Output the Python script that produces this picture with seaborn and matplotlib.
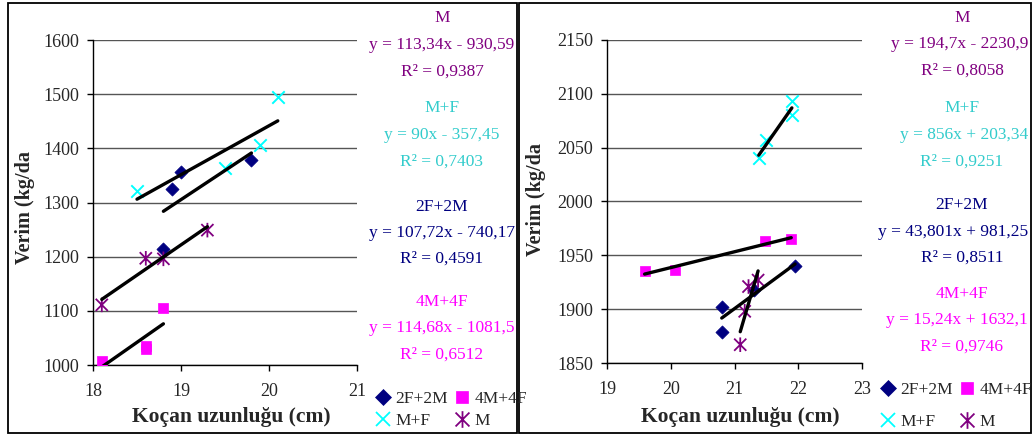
import numpy as np
import pandas as pd
import matplotlib.pyplot as plt
import seaborn as sns
from matplotlib.path import Path
from matplotlib.patches import Rectangle
from matplotlib.lines import Line2D


# --- data (x: Koçan uzunluğu, y: Verim) ---
GROUPS = ["2F+2M", "4M+4F", "M+F", "M"]

left_x = {
    "2F+2M": [19.0, 18.9, 19.8, 18.8],
    "4M+4F": [18.1, 18.6, 18.6, 18.8],
    "M+F": [18.5, 19.5, 19.9, 20.1],
    "M": [18.1, 18.6, 18.8, 19.3],
}
left_y = {
    "2F+2M": [1357, 1325, 1378, 1215],
    "4M+4F": [1008, 1030, 1036, 1105],
    "M+F": [1322, 1363, 1406, 1495],
    "M": [1111, 1197, 1196, 1249],
}
right_x = {
    "2F+2M": [20.8, 20.8, 21.3, 21.95],
    "4M+4F": [19.59, 20.07, 21.48, 21.89],
    "M+F": [21.38, 21.5, 21.9, 21.9],
    "M": [21.09, 21.16, 21.22, 21.37],
}
right_y = {
    "2F+2M": [1902, 1879, 1918, 1940],
    "4M+4F": [1935, 1936, 1963, 1965],
    "M+F": [2040, 2057, 2093, 2080],
    "M": [1867, 1898, 1921, 1927],
}

left_eq = {
    "M": ["y = 113,34x - 930,59", "R² = 0,9387"],
    "M+F": ["y = 90x - 357,45", "R² = 0,7403"],
    "2F+2M": ["y = 107,72x - 740,17", "R² = 0,4591"],
    "4M+4F": ["y = 114,68x - 1081,5", "R² = 0,6512"],
}
right_eq = {
    "M": ["y = 194,7x - 2230,9", "R² = 0,8058"],
    "M+F": ["y = 856x + 203,34", "R² = 0,9251"],
    "2F+2M": ["y = 43,801x + 981,25", "R² = 0,8511"],
    "4M+4F": ["y = 15,24x + 1632,1", "R² = 0,9746"],
}

left_xticks = [18, 19, 20, 21]
left_yticks = [1000, 1100, 1200, 1300, 1400, 1500, 1600]
right_xticks = [19, 20, 21, 22, 23]
right_yticks = [1850, 1900, 1950, 2000, 2050, 2100, 2150]

# --- styles ---
ASTERISK = Path(
    [(-1, -1), (1, 1), (-1, 1), (1, -1), (0, -1.2), (0, 1.2)],
    [Path.MOVETO, Path.LINETO, Path.MOVETO, Path.LINETO, Path.MOVETO, Path.LINETO],
)
MARKER_COLORS = {"2F+2M": "#000080", "4M+4F": "#FF00FF", "M+F": "#00FFFF", "M": "#800080"}
TEXT_COLORS = {"2F+2M": "#000080", "4M+4F": "#FF00FF", "M+F": "#33CCCC", "M": "#800080"}
MARKERS = {"2F+2M": "D", "4M+4F": "s", "M+F": "x", "M": ASTERISK}
SIZES = {"2F+2M": 45, "4M+4F": 55, "M+F": 80, "M": 110}

sns.set_theme(style="white")
plt.rcParams["font.family"] = ["Liberation Serif", "DejaVu Serif"]

W, H = 1034, 436
fig = plt.figure(figsize=(W / 100, H / 100), dpi=100)


def px_rect(x0, x1, ytop, ybot):
    return [x0 / W, (H - ybot) / H, (x1 - x0) / W, (ybot - ytop) / H]


def draw_panel(ax, xs, ys, xticks, yticks):
    for g in GROUPS:
        df = pd.DataFrame({"x": xs[g], "y": ys[g]})
        kw = dict(color=MARKER_COLORS[g], marker=MARKERS[g], s=SIZES[g], zorder=3)
        if g in ("2F+2M", "4M+4F"):
            kw.update(edgecolor=MARKER_COLORS[g], linewidth=0.5)
        elif g == "M":
            kw.update(edgecolor=MARKER_COLORS[g], facecolor="none", linewidth=1.3)
        else:
            kw.update(linewidth=1.4)
        sns.scatterplot(data=df, x="x", y="y", ax=ax, legend=False, **kw)
        sns.regplot(data=df, x="x", y="y", ax=ax, scatter=False, ci=None,
                    truncate=True, line_kws=dict(color="black", lw=2.4, zorder=4))
    ax.set_xlim(xticks[0], xticks[-1])
    ax.set_ylim(yticks[0], yticks[-1])
    ax.set_xticks(xticks)
    ax.set_yticks(yticks)
    ax.yaxis.grid(True, color="#555555", lw=1.0)
    ax.xaxis.grid(False)
    ax.set_axisbelow(True)
    for s in ("top", "right"):
        ax.spines[s].set_visible(False)
    for s in ("left", "bottom"):
        ax.spines[s].set_color("black")
        ax.spines[s].set_linewidth(1.0)
    ax.tick_params(axis="both", direction="out", length=4, width=1, color="black",
                   labelsize=13, pad=6, left=True, bottom=True)
    ax.tick_params(axis="x", pad=9)
    ax.set_xlabel("")
    ax.set_ylabel("")


axL = fig.add_axes(px_rect(93, 357, 40, 365))
draw_panel(axL, left_x, left_y, left_xticks, left_yticks)
axR = fig.add_axes(px_rect(607, 862, 40, 363))
draw_panel(axR, right_x, right_y, right_xticks, right_yticks)

# axis titles
for xc, yc in [(25, 207), (536, 199)]:
    fig.text(xc / W, 1 - yc / H, "Verim (kg/da", rotation=90, ha="center", va="center",
             fontsize=14.5, fontweight="bold")
for xc in (231, 740):
    fig.text(xc / W, 1 - 417 / H, "Koçan uzunluğu (cm)", ha="center", va="center",
             fontsize=15.5, fontweight="bold")

# equation blocks
order = ["M", "M+F", "2F+2M", "4M+4F"]
left_rows = [(18, 45, 72), (108, 135, 162), (207, 233, 259), (302, 328, 355)]
right_rows = [(18, 44, 71), (108, 135, 162), (205, 232, 258), (294, 320, 347)]
for g, ypos in zip(order, left_rows):
    for txt, yp in zip([g] + left_eq[g], ypos):
        fig.text(442 / W, 1 - yp / H, txt, ha="center", va="center",
                 fontsize=12.5, color=TEXT_COLORS[g])
for g, ypos in zip(order, right_rows):
    name, eq, r2 = [g] + right_eq[g]
    fig.text(962 / W, 1 - ypos[0] / H, name, ha="center", va="center",
             fontsize=12.5, color=TEXT_COLORS[g])
    fig.text(1028 / W, 1 - ypos[1] / H, eq, ha="right", va="center",
             fontsize=12.5, color=TEXT_COLORS[g])
    fig.text(962 / W, 1 - ypos[2] / H, r2, ha="center", va="center",
             fontsize=12.5, color=TEXT_COLORS[g])

# legends
handles = []
for g in ["2F+2M", "M+F", "4M+4F", "M"]:
    c = MARKER_COLORS[g]
    ms = {"2F+2M": 8, "4M+4F": 9, "M+F": 10, "M": 12}[g]
    handles.append(Line2D([], [], ls="none", marker=MARKERS[g], color=c, markersize=ms,
                          markerfacecolor=c if g in ("2F+2M", "4M+4F") else "none",
                          markeredgewidth=1.3 if g in ("M+F", "M") else 0.5, label=g))
for x0, ytop, lsp in [(376, 391, 0.35), (881, 382, 0.9)]:
    fig.legend(handles=handles, loc="upper left", bbox_to_anchor=(x0 / W, 1 - ytop / H),
               ncol=2, frameon=False, fontsize=12.5, handlelength=0.8, handletextpad=0.3,
               columnspacing=0.45, labelspacing=lsp, borderaxespad=0, borderpad=0)

# panel borders
for x0, x1 in [(8, 517), (519, 1031)]:
    fig.patches.append(Rectangle((x0 / W, 3 / H), (x1 - x0) / W, 430 / H,
                                 transform=fig.transFigure, fill=False,
                                 edgecolor="black", lw=1.3))

fig.savefig("out.png", dpi=100)
